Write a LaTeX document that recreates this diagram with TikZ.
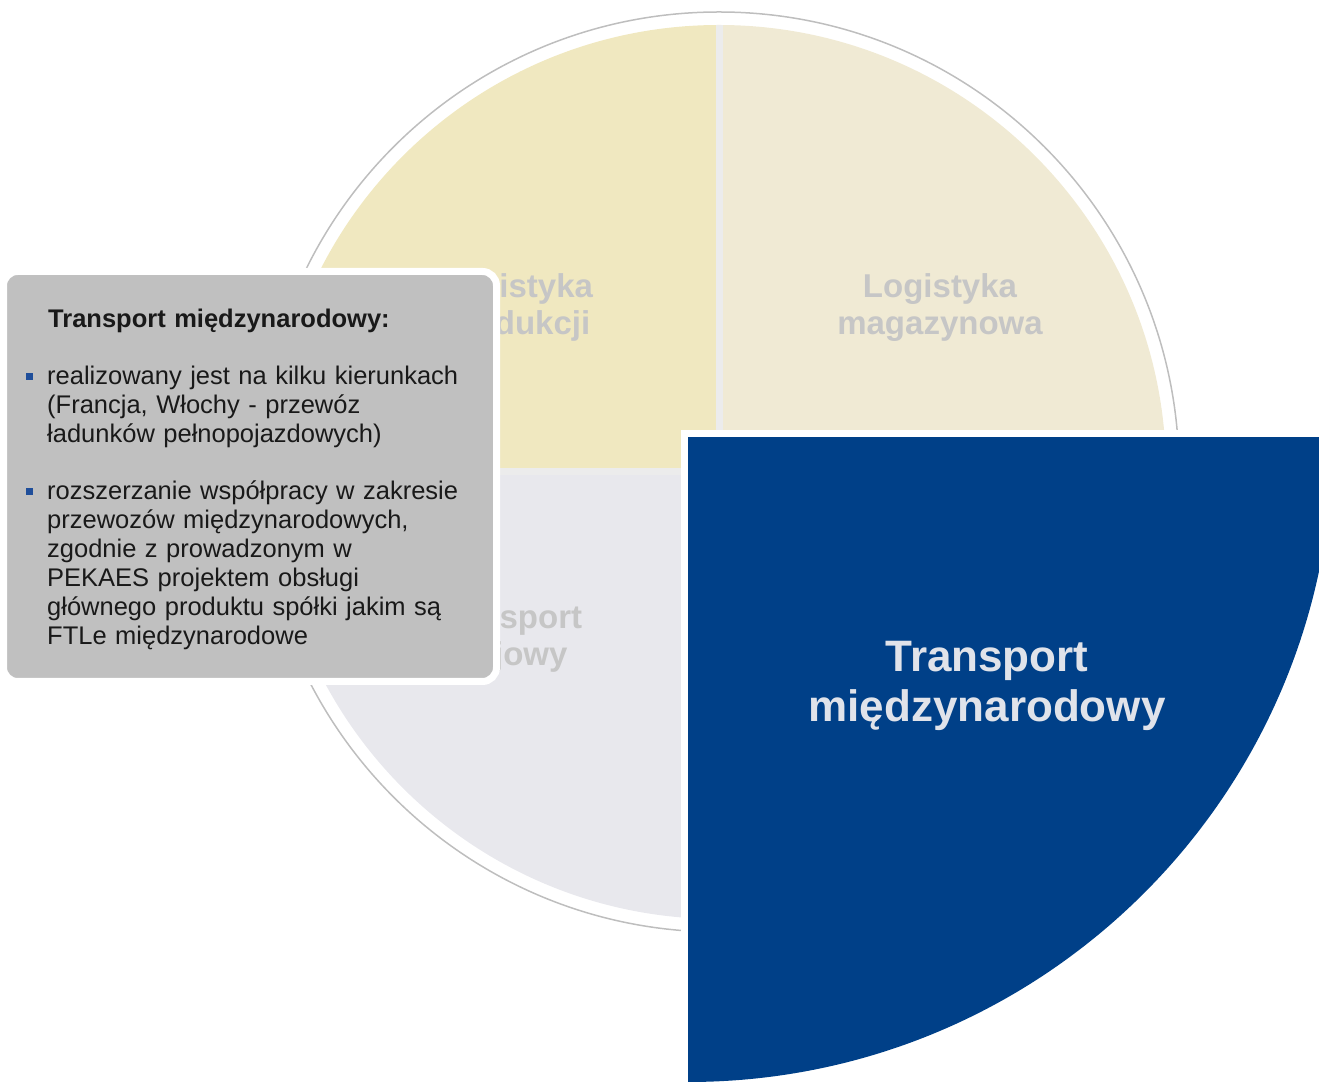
\documentclass[tikz,border=0pt]{standalone}
\usepackage{fontspec}
\setmainfont{Liberation Sans}
\usetikzlibrary{positioning}

\definecolor{prodyellow}{RGB}{240,232,192}
\definecolor{magbeige}{RGB}{240,234,212}
\definecolor{krajgray}{RGB}{232,232,237}
\definecolor{intblue}{RGB}{0,64,136}
\definecolor{boxgray}{RGB}{192,192,192}
\definecolor{labelgray}{RGB}{198,198,198}
\definecolor{sepgray}{RGB}{236,236,236}
\definecolor{ringgray}{RGB}{190,190,190}
\definecolor{dotblue}{RGB}{31,78,154}
\definecolor{bluetext}{RGB}{224,227,234}

\begin{document}
\begin{tikzpicture}[x=1pt,y=1pt,
    quadlabel/.style={text=labelgray,font=\bfseries\fontsize{33}{37}\selectfont,
      align=center,text width=280pt,inner sep=0pt,anchor=base},
    infobox/.style={rectangle,rounded corners=14pt,fill=boxgray,draw=white,line width=7pt},
    boxtext/.style={text=black!90,font=\fontsize{25.5}{29}\selectfont,
      align=left,text width=440pt,inner sep=0pt,anchor=base west},
    bullet/.style={rectangle,fill=dotblue,minimum size=7pt,inner sep=0pt},
    sepline/.style={draw=sepgray,line width=7pt}]

  \clip (0,0) rectangle (1319,1081);
  \coordinate (c) at (719,609);

  % Circle
  \draw[ringgray,line width=1.5pt] (c) circle[radius=460];
  \foreach \col/\a in {magbeige/0,prodyellow/90,krajgray/180,krajgray/270}
    \fill[\col] (c) -- ++(\a:447) arc[start angle=\a,delta angle=90,radius=447] -- cycle;
  \draw[sepline] (c) -- ([yshift=447]c);
  \draw[sepline] ([xshift=-447]c) -- ([xshift=447]c);

  \node[quadlabel] (lprod) at (516,783) {Logistyka\\produkcji};
  \node[quadlabel] (lmag)  at (940,783) {Logistyka\\magazynowa};
  \node[quadlabel] (tkraj) at (506,452) {Transport\\krajowy};

  % Info box
  \node[infobox,minimum width=493pt,minimum height=410pt] (info) at (250,604.5) {};
  \node[boxtext,font=\bfseries\fontsize{25.5}{29}\selectfont] (head) at (48,753)
    {Transport międzynarodowy:};
  \node[boxtext] (item1) at (47,696)
    {realizowany jest na kilku kierunkach\\(Francja, Włochy - przewóz\\ładunków pełnopojazdowych)};
  \node[boxtext] (item2) at (47,581)
    {rozszerzanie współpracy w zakresie\\przewozów międzynarodowych,\\zgodnie z prowadzonym w\\PEKAES projektem obsługi\\głównego produktu spółki jakim są\\FTLe międzynarodowe};
  \node[bullet] (dot1) at ([xshift=-17.5pt,yshift=8pt]item1.base west) {};
  \node[bullet] (dot2) at ([xshift=-17.5pt,yshift=8pt]item2.base west) {};

  % Highlighted quarter
  \coordinate (q) at (688,644);
  \fill[intblue] (q) -- ++(645,0) arc[start angle=0,end angle=-90,radius=645] -- cycle;
  \draw[white,line width=7pt] ([xshift=-3.5pt]q |- 0,-10) -- ([shift={(-3.5pt,3.5pt)}]q) -- (1330,647.5);
  \node[quadlabel,text=bluetext,font=\bfseries\fontsize{44}{50}\selectfont,text width=420pt]
    (tint) at (987,409) {Transport\\międzynarodowy};

\end{tikzpicture}
\end{document}
